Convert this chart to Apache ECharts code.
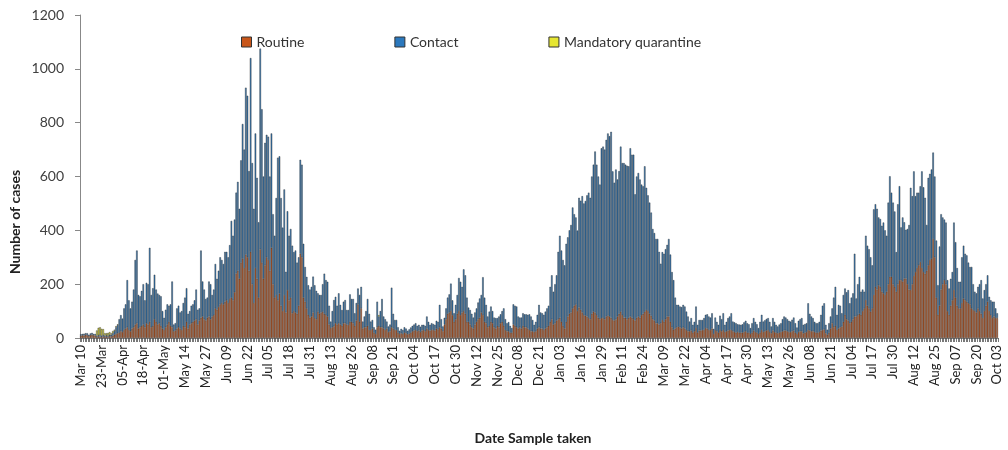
<!DOCTYPE html>
<html>
<head>
<meta charset="utf-8">
<script src="https://cdn.jsdelivr.net/npm/echarts@6/dist/echarts.min.js"></script>
<style>
    html, body { margin: 0; background: #fff; }
    #chart { width: 1008px; height: 450px; }
</style>
</head>
<body>
<div id="chart"></div>
<script>
// daily counts from Mar 10 2020 to Oct 03 2021
var routine = [
    8,10,9,12,10,7,11,12,10,9,
    5,6,5,4,6,5,6,4,7,6,8,12,15,18,
    20,25,22,30,35,40,30,25,35,40,50,55,35,40,45,50,40,55,
    50,60,40,45,70,60,50,55,45,35,30,40,50,60,45,40,25,28,
    35,40,35,30,45,40,60,35,50,55,60,65,70,50,65,75,80,70,65,75,
    80,70,80,85,110,105,115,125,130,125,135,140,130,145,150,140,170,240,250,220,
    280,295,260,310,300,250,320,200,130,260,220,150,330,280,220,270,300,290,250,335,
    200,150,160,140,165,120,100,160,95,178,140,150,92,100,95,90,120,313,300,150,
    135,110,86,75,80,95,74,70,98,90,95,98,90,85,80,50,37,40,44,55,
    50,55,50,45,55,55,50,48,60,60,55,45,65,125,60,110,35,40,40,45,
    30,30,35,20,15,40,45,40,40,35,30,35,22,25,40,35,30,30,20,15,
    18,15,20,18,14,16,20,25,28,30,25,28,22,28,30,25,35,30,28,30,
    30,28,35,32,40,35,25,50,70,90,95,100,85,60,70,90,100,85,95,100,
    90,60,60,50,40,35,50,60,70,75,95,85,60,55,40,45,60,55,40,35,
    45,40,55,60,45,30,25,25,20,20,50,45,40,35,40,35,45,40,40,35,
    30,25,25,22,25,35,40,35,35,30,35,40,45,60,70,50,55,65,70,75,
    60,45,35,60,80,90,95,110,120,125,100,113,105,95,85,83,80,74,70,90,
    98,95,85,75,70,74,74,70,80,83,80,75,67,65,70,80,90,98,85,75,
    75,70,75,80,75,70,65,75,80,75,85,90,98,104,100,90,83,70,65,55,
    55,50,55,67,60,70,80,80,60,40,31,35,40,42,40,35,40,35,30,25,
    25,28,20,25,37,20,28,28,30,30,37,35,30,30,35,15,30,25,20,30,
    25,30,22,25,28,30,30,25,22,20,22,20,20,20,22,25,20,20,15,20,
    28,22,20,15,20,30,22,25,28,30,22,18,28,22,20,18,20,22,25,28,
    28,25,22,22,25,28,20,15,22,25,25,18,20,22,30,28,25,25,22,20,
    20,22,28,30,32,18,12,20,35,55,40,45,30,35,40,43,60,86,70,65,
    55,60,70,80,80,85,90,86,100,110,141,120,110,98,110,160,190,180,196,190,
    172,166,160,172,200,227,227,200,190,172,200,215,215,210,221,221,200,180,178,200,
    230,245,260,270,282,260,245,239,250,270,290,294,368,300,150,86,120,180,200,215,
    200,100,86,120,140,178,150,120,110,110,130,147,140,135,129,125,110,104,100,95,
    110,100,90,74,100,120,135,100,85,74,80,74,74
];

var contact = [
    6,5,7,6,8,5,6,7,5,6,
    3,4,5,4,5,3,4,3,5,6,10,14,25,30,
    50,60,50,80,90,175,110,85,100,140,240,270,125,115,130,150,100,150,
    150,275,120,140,165,120,115,105,110,65,45,65,75,60,80,170,25,27,
    75,80,60,70,85,110,125,55,50,65,65,75,110,55,45,250,130,110,80,75,
    130,130,80,95,165,115,135,175,160,150,185,180,170,200,285,240,270,300,330,260,
    380,500,440,620,600,370,720,450,350,500,375,280,745,570,380,455,455,458,350,425,
    260,230,360,530,510,400,310,392,151,293,240,255,251,219,230,190,180,349,344,200,
    129,117,110,105,110,133,122,105,68,70,65,102,149,130,129,70,24,60,97,98,
    70,111,73,59,80,86,54,56,102,85,90,47,65,59,100,80,26,40,60,100,
    60,31,32,20,16,95,35,60,105,45,40,26,21,25,147,55,37,37,20,12,
    16,15,20,17,13,16,19,20,22,25,20,21,20,21,19,20,45,30,21,25,
    22,21,29,28,83,35,18,25,40,60,67,102,55,32,53,70,123,124,95,155,
    143,90,53,54,50,41,45,50,62,72,65,141,90,68,40,53,57,45,36,39,
    29,40,33,40,65,40,30,34,25,17,75,75,77,45,36,41,47,48,48,51,
    58,55,42,27,35,51,83,60,57,56,63,70,75,130,163,122,145,168,250,305,
    265,245,235,290,294,310,325,375,340,323,299,408,405,432,415,426,450,466,451,510,
    546,598,559,525,500,631,637,630,656,677,670,691,552,512,556,509,530,613,565,575,
    569,570,563,625,606,611,469,525,533,514,485,474,540,454,430,413,383,335,325,313,
    313,270,221,252,253,260,266,288,250,205,184,115,83,81,77,80,83,82,68,55,
    36,46,29,35,80,29,39,39,37,44,49,53,50,46,57,19,46,35,29,53,
    45,62,27,35,46,50,62,36,36,35,29,30,29,31,36,39,35,31,22,35,
    46,38,31,22,40,56,39,41,43,44,38,25,46,38,29,25,30,33,45,52,
    48,45,42,39,43,48,35,24,42,45,49,31,32,33,99,62,55,49,38,35,
    35,38,58,90,97,31,19,35,45,55,110,145,56,88,80,49,100,98,100,113,
    74,90,96,233,67,115,137,86,80,62,239,223,220,202,160,318,307,300,252,252,
    245,263,240,208,303,374,313,303,280,147,297,349,196,238,209,181,205,240,380,327,
    389,282,280,270,282,359,315,282,170,325,320,332,321,300,212,110,220,280,248,225,
    229,115,98,100,105,251,206,140,99,99,170,196,173,172,151,139,154,96,72,71,
    80,100,125,73,78,80,98,53,55,61,55,36,18
];

// [day index, cases] for the few days with mandatory quarantine samples
var quarantine = [
    [10,20],[11,28],[12,30],[13,26],[14,22],[15,10],[16,8],
    [17,12],[18,10],[19,6],[20,8],[21,5],[22,4],[23,3],[186,5]
];

var tickLabels = ['Mar 10','23-Mar','05-Apr','18-Apr','01-May','May 14','May 27','Jun 09',
    'Jun 22','Jul 05','Jul 18','Jul 31','Aug 13','Aug 26','Sep 08','Sep 21','Oct 04',
    'Oct 17','Oct 30','Nov 12','Nov 25','Dec 08','Dec 21','Jan 03','Jan 16','Jan 29',
    'Feb 11','Feb 24','Mar 09','Mar 22','Apr 04','Apr 17','Apr 30','May 13','May 26',
    'Jun 08','Jun 21','Jul 04','Jul 17','Jul 30','Aug 12','Aug 25','Sep 07','Sep 20','Oct 03'];

(function () {
    var start = new Date(2020, 2, 10);
    var categories = routine.map(function (v, i) {
        var d = new Date(start.getFullYear(), start.getMonth(), start.getDate() + i);
        return d.getFullYear() + '-' + (d.getMonth() + 1) + '-' + d.getDate();
    });
    var quarantineFull = routine.map(function () { return null; });
    quarantine.forEach(function (p) { quarantineFull[p[0]] = p[1]; });

    var font = 'Lato';
    var edge = { borderColor: '#333', borderWidth: 0.45 };

    var myChart = echarts.init(document.getElementById('chart'));
    var option = {
        animation: false,
        textStyle: { fontFamily: font },
        grid: { left: 80, right: 10, top: 15, bottom: 112 },
        legend: {
            left: 241, top: 35, padding: 0, itemWidth: 10, itemHeight: 10, itemGap: 90, icon: 'rect',
            textStyle: { fontSize: 14, color: '#333', fontFamily: font },
            itemStyle: { borderColor: '#333', borderWidth: 1 },
            data: ['Routine', 'Contact', 'Mandatory quarantine']
        },
        xAxis: {
            type: 'category',
            data: categories,
            axisLine: { lineStyle: { color: '#888' } },
            axisTick: { show: true, interval: 0, length: 4, lineStyle: { color: '#555', width: 0.8 } },
            axisLabel: {
                interval: 12, rotate: 90, fontSize: 13, color: '#222', margin: 7,
                formatter: function (v, i) { return tickLabels[Math.round(i / 13)]; }
            }
        },
        yAxis: {
            type: 'value', min: 0, max: 1200, interval: 200,
            axisLine: { show: true, lineStyle: { color: '#888' } },
            axisTick: { show: true, length: 5, lineStyle: { color: '#888' } },
            axisLabel: { fontSize: 14, color: '#404040', margin: 16,
                formatter: function (v) { return String(v); } },
            splitLine: { show: false }
        },
        graphic: [{
            type: 'text', x: 15, y: 222, rotation: Math.PI / 2,
            style: { text: 'Number of cases', x: 0, y: 0, align: 'center', verticalAlign: 'middle',
                font: 'bold 14px Lato', fill: '#222' }
        }, {
            type: 'text', x: 533, y: 438,
            style: { text: 'Date Sample taken', x: 0, y: 0, align: 'center', verticalAlign: 'middle',
                font: 'bold 14px Lato', fill: '#222' }
        }],
        series: [{
            name: 'Routine', type: 'bar', stack: 'all', barCategoryGap: '5%',
            itemStyle: Object.assign({ color: '#c8561a' }, edge),
            data: routine
        }, {
            name: 'Contact', type: 'bar', stack: 'all',
            itemStyle: Object.assign({ color: '#2b78bd' }, edge),
            data: contact
        }, {
            name: 'Mandatory quarantine', type: 'bar', stack: 'all',
            itemStyle: Object.assign({ color: '#e6e632' }, edge),
            data: quarantineFull
        }]
    };
    myChart.setOption(option);
})();
</script>
</body>
</html>
